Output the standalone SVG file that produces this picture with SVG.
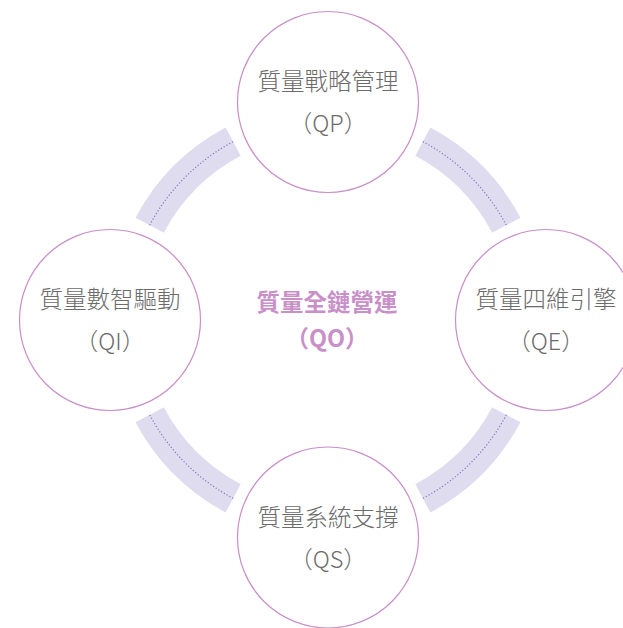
<svg xmlns="http://www.w3.org/2000/svg" width="623" height="628" viewBox="0 0 623 628">
<style>
.band{fill:none;stroke:#dfdcef;stroke-width:32;stroke-linecap:butt}
.dots{fill:none;stroke:#7d79c0;stroke-width:1.2;stroke-dasharray:1.2 2}
.node circle{fill:#ffffff;stroke:#c98fc8;stroke-width:1.2}
.lbl{font-family:"Noto Sans CJK TC","Noto Sans CJK SC",sans-serif;font-size:23.5px;fill:#6b6b6b;text-anchor:middle;font-weight:300}
.ctr{font-family:"Noto Sans CJK TC","Noto Sans CJK SC",sans-serif;font-size:23.5px;fill:#c98fc8;text-anchor:middle;font-weight:700}
</style>
<rect width="623" height="628" fill="#ffffff"/>
<g id="connectors">
<path class="band" d="M149.65,225.16 A202,202 0 0 1 233.16,141.65"/>
<path class="dots" d="M149.65,225.16 A202,202 0 0 1 233.16,141.65"/>
<path class="band" d="M422.84,141.65 A202,202 0 0 1 506.35,225.16"/>
<path class="dots" d="M422.84,141.65 A202,202 0 0 1 506.35,225.16"/>
<path class="band" d="M506.35,414.84 A202,202 0 0 1 422.84,498.35"/>
<path class="dots" d="M506.35,414.84 A202,202 0 0 1 422.84,498.35"/>
<path class="band" d="M233.16,498.35 A202,202 0 0 1 149.65,414.84"/>
<path class="dots" d="M233.16,498.35 A202,202 0 0 1 149.65,414.84"/>
</g>
<g id="center">
<text class="ctr" x="327" y="310.5">質量全鏈營運</text>
<text class="ctr" x="327" y="347">（QO）</text>
</g>
<g id="qp" class="node">
<circle cx="328" cy="102" r="90.5"/>
<text class="lbl" x="328" y="90">質量戰略管理</text>
<text class="lbl" x="328" y="132">（QP）</text>
</g>
<g id="qi" class="node">
<circle cx="110" cy="320" r="90.5"/>
<text class="lbl" x="110" y="308">質量數智驅動</text>
<text class="lbl" x="110" y="350">（QI）</text>
</g>
<g id="qe" class="node">
<circle cx="546" cy="320" r="90.5"/>
<text class="lbl" x="546" y="308">質量四維引擎</text>
<text class="lbl" x="546" y="350">（QE）</text>
</g>
<g id="qs" class="node">
<circle cx="328" cy="537.5" r="90.5"/>
<text class="lbl" x="328" y="525.5">質量系統支撐</text>
<text class="lbl" x="328" y="567.5">（QS）</text>
</g>
</svg>
